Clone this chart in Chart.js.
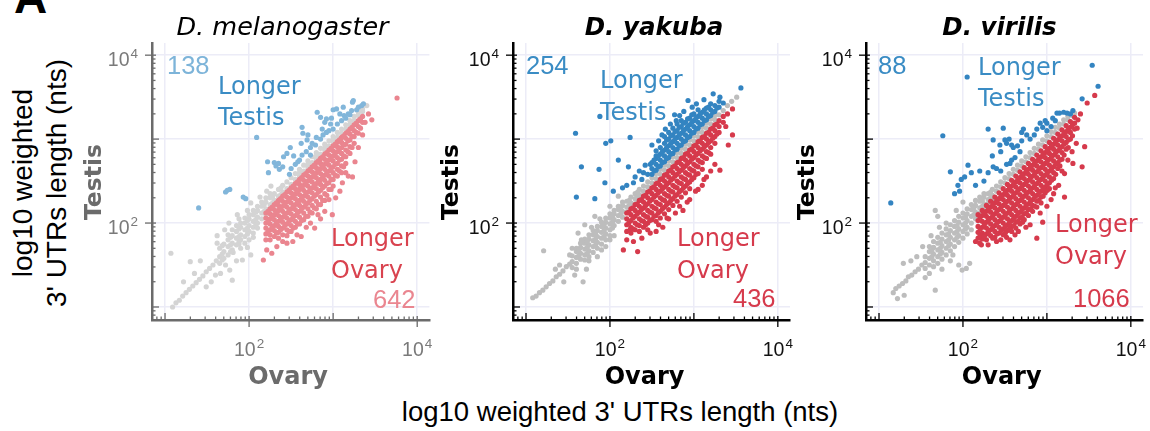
<!DOCTYPE html>
<html><head><meta charset="utf-8">
<script src="https://cdn.jsdelivr.net/npm/chart.js@4/dist/chart.umd.min.js"></script>
<style>
html,body{margin:0;padding:0;background:#fff;}
body{width:1150px;height:431px;overflow:hidden;position:relative;font-family:"Liberation Sans",Arial,sans-serif;color:#000;}
canvas{position:absolute;top:0;}
.t{position:absolute;white-space:nowrap;}
</style></head><body>
<div class="t" style="left:14px;top:-26px;font:bold 46px 'Liberation Sans';line-height:46px;">A</div>
<div class="t" style="left:40px;top:183px;transform:translate(-50%,-50%) rotate(-90deg);font:28px 'Liberation Sans';line-height:34px;text-align:center;">log10 weighted<br>3' UTRs length (nts)</div>
<div class="t" style="left:0;width:1240px;text-align:center;top:398px;font:27.5px 'Liberation Sans';line-height:27.5px;">log10 weighted 3' UTRs length (nts)</div>
<canvas id="k1" width="372" height="400" style="left:60px"></canvas>
<canvas id="k2" width="361" height="400" style="left:432px"></canvas>
<canvas id="k3" width="357" height="400" style="left:793px"></canvas>
<script>
// values are log10(length in nts); each entry is [ovary, testis, testis, ...] (points sharing one ovary value)
const tickExponents = [2, 4];
const panelTitles = ["D. melanogaster", "D. yakuba", "D. virilis"];
const countTestis = [138, 254, 88];
const countOvary = [642, 436, 1066];

const melGrey = [[1.09,1.00],[1.13,1.05],[1.17,1.08],[1.21,1.13],[1.25,1.17],[1.29,1.21],[1.33,1.25],[1.37,1.29],[1.41,1.33],[1.45,1.37],[1.49,1.42,1.24],[1.53,1.46],[1.57,1.50],[1.61,1.55],
[1.07,1.64],[1.30,1.54],[1.42,1.55],[1.62,1.76,1.85],[1.68,1.56],[1.81,1.65],[1.77,1.44],[1.80,1.32],[1.92,1.56],[1.98,1.71,2.15],[2.05,1.83],[1.55,1.30],[1.60,1.38],[1.72,1.50],[1.35,1.40],[1.22,1.30],[1.66,1.40],[1.85,1.55],[1.88,1.75,2.05],[2.02,1.62,2.24],[1.76,2.00],[1.86,2.10],[2.13,2.31],[1.71,1.92],[2.21,2.38],[2.26,2.44],
[1.65,1.60,1.70,1.52],[1.70,1.66,1.75,1.58],[1.75,1.72,1.80,1.62,1.86],[1.80,1.76,1.85,1.68,1.92],[1.85,1.82,1.90,1.74,1.97],[1.90,1.86,1.95,1.80,2.00,1.70],[1.95,1.92,2.00,1.84,2.06,1.76],[2.00,1.97,2.05,1.90,2.10,1.80],[2.05,2.02,2.10,1.95,2.15,1.88],[2.10,2.07,2.15,2.00,2.20,1.94],[2.15,2.12,2.20,2.05,2.25],[2.20,2.17,2.25,2.10,2.30],[2.25,2.22,2.30,2.16,2.35],[2.30,2.27,2.35,2.22],[2.35,2.32,2.40,2.27],[2.40,2.37,2.45,2.32],
[1.68,1.63,1.73],[1.78,1.74,1.83,1.66],[1.88,1.84,1.93,1.78],[1.98,1.94,2.03,1.87],[2.08,2.04,2.13,1.98],[2.18,2.14,2.22],[2.28,2.24,2.32],[2.38,2.34,2.42],
[2.45,2.41,2.49],[2.50,2.46,2.54,2.42],[2.55,2.52,2.59],[2.60,2.56,2.64,2.60],[2.65,2.62,2.69],[2.70,2.66,2.74,2.70],[2.75,2.72,2.79],[2.80,2.76,2.84,2.80],[2.85,2.82,2.89],[2.90,2.87,2.94,2.90],[2.95,2.92,2.98],[3.00,2.97,3.03,3.00],[3.05,3.02,3.08],[3.10,3.07,3.12],[3.15,3.12,3.17],[3.20,3.17,3.22],[3.25,3.22,3.27],[3.30,3.28,3.32],[3.35,3.33,3.36],[3.40,3.40]];

const melTestis = [[1.40,2.18],[1.72,2.37],[1.74,2.39],[1.77,2.40],[1.93,2.31],[1.96,2.29],[2.09,3.02],[2.22,2.73],[2.23,2.60],[2.30,2.72],[2.32,2.68],[2.35,2.71],[2.36,2.64],[2.40,2.67],[2.41,2.79],[2.45,2.83],[2.48,2.58],[2.49,2.90],[2.50,2.65],[2.53,2.80],[2.55,2.70],[2.58,2.73],[2.60,2.75],[2.62,2.95],[2.63,2.81,3.14],[2.64,3.07],[2.68,2.85],[2.69,2.99],[2.70,3.05],[2.73,2.81,2.90],[2.75,2.95],[2.79,2.93],[2.80,3.02],[2.81,3.32],[2.85,3.00,3.26],[2.87,3.12],[2.88,3.05],[2.90,3.20],[2.92,3.08,3.24],[2.95,3.10],[2.97,3.18],[2.98,3.25],[3.00,3.12,3.35],[3.04,3.36],[3.05,3.18],[3.08,3.30],[3.10,3.22],[3.12,3.38],[3.13,3.28],[3.15,3.25],[3.18,3.30],[3.20,3.29],[3.22,3.34],[3.23,3.44],[3.24,3.46],[3.28,3.35],[3.30,3.38],[3.34,3.40],[3.36,3.42]];

const melOvary = [[2.20,2.12,2.06,2.00,1.94,1.87,1.80],[2.25,2.17,2.11,2.05,1.99,1.92,1.86,1.80],[2.30,2.22,2.16,2.10,2.04,1.97,1.91,1.84],[2.35,2.27,2.21,2.15,2.09,2.02,1.96,1.89,1.82],[2.40,2.32,2.26,2.20,2.14,2.07,2.01,1.94,1.86],[2.45,2.37,2.31,2.25,2.19,2.12,2.06,1.99,1.92,1.85],[2.50,2.42,2.36,2.30,2.24,2.17,2.11,2.04,1.97,1.90],[2.55,2.47,2.41,2.35,2.29,2.22,2.16,2.09,2.02,1.95],[2.60,2.52,2.46,2.40,2.34,2.27,2.21,2.14,2.07,1.99],[2.65,2.57,2.51,2.45,2.39,2.32,2.26,2.19,2.12,2.04],[2.70,2.62,2.56,2.50,2.44,2.37,2.31,2.24,2.17,2.08],[2.75,2.67,2.61,2.55,2.49,2.42,2.36,2.29,2.21,2.12],[2.80,2.72,2.66,2.60,2.54,2.47,2.41,2.34,2.26,2.17],[2.85,2.77,2.71,2.65,2.59,2.52,2.46,2.39,2.31,2.22],[2.90,2.82,2.76,2.70,2.64,2.57,2.51,2.44,2.35,2.27],[2.95,2.87,2.81,2.75,2.69,2.62,2.56,2.48,2.40],[3.00,2.92,2.86,2.80,2.74,2.67,2.60,2.52,2.44],[3.05,2.97,2.91,2.85,2.78,2.71,2.64,2.56],[3.10,3.02,2.96,2.90,2.83,2.76,2.68,2.60],[3.15,3.07,3.01,2.94,2.87,2.79,2.71],[3.20,3.12,3.06,2.99,2.91,2.83],[3.25,3.17,3.10,3.03,2.95],[3.30,3.22,3.15,3.07],[3.35,3.27,3.20],
[2.225,2.14,2.02,1.90],[2.275,2.19,2.08,1.95],[2.325,2.24,2.13,2.00,1.88],[2.375,2.29,2.18,2.05,1.92],[2.425,2.34,2.23,2.10,1.97],[2.475,2.39,2.28,2.15,2.02,1.90],[2.525,2.44,2.33,2.20,2.07,1.94],[2.575,2.49,2.38,2.25,2.12,1.99],[2.625,2.54,2.43,2.30,2.17,2.03],[2.675,2.59,2.48,2.35,2.22,2.08],[2.725,2.64,2.53,2.40,2.27,2.13],[2.775,2.69,2.58,2.45,2.32,2.18],[2.825,2.74,2.63,2.50,2.37,2.22],[2.875,2.79,2.68,2.55,2.42,2.27],[2.925,2.84,2.73,2.60,2.47,2.33],[2.975,2.89,2.78,2.65,2.52,2.40],[3.025,2.94,2.83,2.70,2.57],[3.075,2.99,2.88,2.75,2.62],[3.125,3.04,2.93,2.80,2.67],[3.175,3.09,2.98,2.85],[3.225,3.14,3.03,2.90],[3.275,3.19,3.08],[3.325,3.24,3.13],
[2.17,1.56],[2.21,1.68],[2.27,1.64],[2.33,1.72],[2.40,1.78],[2.45,1.76],[2.52,1.78],[2.57,1.86],[2.62,1.84],[2.68,1.95],[2.73,2.00],[2.78,1.94],[2.82,2.10],[2.85,2.05],[2.90,2.14],[2.95,2.28],[2.99,2.10],[3.03,2.30],[3.08,2.38],[3.11,2.48],[3.15,2.60],[3.18,2.56],[3.23,2.55],[3.26,2.73],[3.30,2.90],[3.35,3.05],[3.38,3.20],[3.42,3.30],[3.46,3.23],[3.76,3.49]];

const yakGrey = [[1.08,1.11],[1.12,1.13],[1.16,1.17],[1.20,1.20],[1.24,1.24],[1.28,1.28],[1.32,1.31],[1.36,1.36],[1.40,1.39,1.50],[1.44,1.43],[1.48,1.48],[1.52,1.51,1.62],
[1.21,1.67],[1.68,1.30],[1.45,1.30],[1.35,1.45],[1.58,1.38],[1.60,1.45],[1.72,1.45],[1.75,1.55],[1.85,1.60],[1.90,1.68],[1.95,1.72],[2.00,1.80],[2.05,1.85],[1.55,1.70],[1.62,1.88],[1.66,1.80],[1.70,1.98],[1.78,1.95],[1.82,2.08],[1.88,2.05],[2.00,2.20],[2.10,2.32],
[1.55,1.54,1.61,1.47],[1.60,1.59,1.66,1.52,1.70],[1.65,1.64,1.71,1.57,1.76],[1.70,1.69,1.76,1.62,1.81,1.56],[1.75,1.74,1.81,1.67,1.86,1.60],[1.80,1.79,1.86,1.72,1.91,1.65],[1.85,1.84,1.91,1.77,1.96,1.70],[1.90,1.89,1.96,1.82,2.01,1.75],[1.95,1.94,2.01,1.87,2.06,1.80],[2.00,1.99,2.06,1.92,2.11,1.85],[2.05,2.04,2.11,1.97,2.15],[2.10,2.09,2.16,2.02,2.20],[2.15,2.14,2.21,2.07,2.25],[2.20,2.19,2.26,2.13],[2.25,2.24,2.31,2.18],[2.30,2.29,2.35,2.23],[2.35,2.34,2.40,2.29],
[1.63,1.61,1.68],[1.73,1.71,1.78,1.64],[1.83,1.81,1.88,1.74],[1.93,1.91,1.98,1.84],[2.03,2.01,2.08,1.94],[2.13,2.11,2.18],[2.23,2.21,2.27],[2.33,2.31,2.37],
[2.40,2.38,2.44],[2.45,2.43,2.49],[2.50,2.48,2.54],[2.55,2.53,2.59],[2.60,2.58,2.64],[2.65,2.63,2.69],[2.70,2.68,2.74],[2.75,2.73,2.79],[2.80,2.78,2.84],[2.85,2.83,2.89],[2.90,2.88,2.94],[2.95,2.93,2.99],[3.00,2.98,3.04],[3.05,3.03,3.09],[3.10,3.08,3.14],[3.15,3.13,3.19],[3.20,3.18,3.24],[3.25,3.23,3.28],[3.30,3.29],[3.35,3.34],[3.40,3.40],[3.45,3.45],[3.51,3.50]];

const yakTestis = [[1.59,3.07],[1.60,2.31],[1.66,2.67],[1.82,2.29],[1.87,2.64],[1.88,3.27],[1.94,2.48],[1.95,2.95],[2.01,2.98],[2.04,2.38],[2.10,2.75],[2.15,2.42],[2.20,2.45],[2.22,2.67],[2.24,3.02],[2.28,2.48],[2.30,2.55],[2.35,2.62],[2.38,2.52],[2.40,2.60],[2.42,2.69],[2.45,2.58],[2.48,2.70],[2.50,2.93],[2.55,2.80],[2.77,3.29],[2.93,3.46],[3.23,3.54],[3.31,3.50],[3.56,3.61],
[2.58,2.98],[2.62,3.05],[2.66,3.12],[2.72,3.18],[2.79,3.22],[2.83,3.28],[2.88,3.33],[2.98,3.38],[3.03,3.42],[3.12,3.47],
[2.50,2.58,2.65,2.72],[2.55,2.63,2.70,2.77,2.86],[2.60,2.68,2.75,2.82,2.90],[2.65,2.73,2.80,2.87,2.95,3.03],[2.70,2.78,2.85,2.92,3.00,3.08],[2.75,2.83,2.90,2.97,3.05,3.13],[2.80,2.88,2.95,3.02,3.10,3.18],[2.85,2.93,3.00,3.07,3.15,3.22],[2.90,2.98,3.05,3.12,3.20],[2.95,3.03,3.10,3.17,3.25],[3.00,3.08,3.15,3.22,3.30],[3.05,3.13,3.20,3.27,3.35],[3.10,3.18,3.25,3.32],[3.15,3.23,3.30,3.37],[3.20,3.28,3.35,3.42],[3.25,3.33,3.40],[3.30,3.38,3.45],[3.35,3.43],
[2.525,2.62,2.75],[2.575,2.67,2.80],[2.625,2.72,2.85],[2.675,2.77,2.90,2.99],[2.725,2.82,2.95,3.04],[2.775,2.87,3.00,3.09],[2.825,2.92,3.05,3.14],[2.875,2.97,3.10,3.19],[2.925,3.02,3.15,3.24],[2.975,3.07,3.20,3.29],[3.025,3.12,3.25],[3.075,3.17,3.30],[3.125,3.22,3.35],[3.175,3.27,3.38],[3.225,3.32],[3.275,3.37]];

const yakOvary = [[2.20,2.12,2.05,1.98,1.90],[2.25,2.17,2.10,2.03,1.95,1.88],[2.30,2.22,2.15,2.08,2.00,1.92],[2.35,2.27,2.20,2.13,2.05,1.97,1.90],[2.40,2.32,2.25,2.18,2.10,2.02,1.95],[2.45,2.37,2.30,2.23,2.15,2.07,2.00],[2.50,2.42,2.35,2.28,2.20,2.12,2.04],[2.55,2.47,2.40,2.33,2.25,2.17,2.09,2.02],[2.60,2.52,2.45,2.38,2.30,2.22,2.14,2.06],[2.65,2.57,2.50,2.43,2.35,2.27,2.19,2.11],[2.70,2.62,2.55,2.48,2.40,2.32,2.24,2.16],[2.75,2.67,2.60,2.53,2.45,2.37,2.29,2.21],[2.80,2.72,2.65,2.58,2.50,2.42,2.34,2.26],[2.85,2.77,2.70,2.63,2.55,2.47,2.39,2.31],[2.90,2.82,2.75,2.68,2.60,2.52,2.44,2.36],[2.95,2.87,2.80,2.73,2.65,2.57,2.49,2.41],[3.00,2.92,2.85,2.78,2.70,2.62,2.54],[3.05,2.97,2.90,2.83,2.75,2.67,2.59],[3.10,3.02,2.95,2.88,2.80,2.72,2.64],[3.15,3.07,3.00,2.93,2.85,2.77],[3.20,3.12,3.05,2.98,2.90,2.82],[3.25,3.17,3.10,3.03,2.95],[3.30,3.22,3.15,3.08],[3.35,3.27,3.20],
[2.225,2.13,2.00],[2.275,2.18,2.06,1.93],[2.325,2.23,2.11,1.98],[2.375,2.28,2.16,2.03],[2.425,2.33,2.21,2.08,1.98],[2.475,2.38,2.26,2.13,2.03],[2.525,2.43,2.31,2.18,2.08],[2.575,2.48,2.36,2.23,2.12],[2.625,2.53,2.41,2.28,2.17],[2.675,2.58,2.46,2.33,2.22],[2.725,2.63,2.51,2.38,2.27],[2.775,2.68,2.56,2.43,2.32],[2.825,2.73,2.61,2.48,2.37],[2.875,2.78,2.66,2.53,2.42],[2.925,2.83,2.71,2.58,2.47],[2.975,2.88,2.76,2.63,2.52],[3.025,2.93,2.81,2.68,2.58],[3.075,2.98,2.86,2.73],[3.125,3.03,2.91,2.78],[3.175,3.08,2.96,2.84],[3.225,3.13,3.01],[3.275,3.18,3.06],
[2.16,1.68],[2.20,1.80],[2.24,1.92],[2.28,1.78],[2.33,1.66],[2.38,1.82],[2.45,1.92],[2.48,1.88],[2.55,1.90],[2.58,1.98],[2.63,1.95],[2.68,2.06],[2.70,2.05],[2.78,2.12],[2.83,2.20],[2.87,2.15],[2.92,2.25],[2.95,2.28],[3.02,2.38],[3.05,2.40],[3.10,2.45],[3.12,2.52],[3.15,2.55],[3.20,2.62],[3.25,2.70],[3.31,2.63],[3.38,3.15],[3.40,3.30],[3.41,2.93],[3.46,3.05,3.36]];

const virGrey = [[1.17,1.17],[1.20,1.22],[1.22,1.10],[1.24,1.25],[1.28,1.28],[1.29,1.52],[1.30,1.14],[1.32,1.31],[1.35,1.36],[1.38,1.55],[1.39,1.38],[1.43,1.42],[1.45,1.60],[1.47,1.45],[1.51,1.50],[1.52,1.72],[1.55,1.35],[1.60,1.40],[1.62,1.85],[1.67,1.20,2.15],[1.70,2.08],[1.72,1.95],[1.75,1.45],[1.80,2.00],[1.85,1.55],[1.88,1.62],[1.92,2.15],[1.95,1.50],[1.99,1.44],[2.00,2.25],[2.04,1.46],[2.08,1.52],
[1.55,1.53,1.60,1.46],[1.60,1.58,1.66,1.50,1.72],[1.65,1.63,1.71,1.55,1.78,1.48],[1.70,1.68,1.76,1.60,1.83,1.52],[1.75,1.73,1.81,1.65,1.88,1.57],[1.80,1.78,1.86,1.70,1.93,1.62],[1.85,1.83,1.91,1.75,1.98,1.67],[1.90,1.88,1.96,1.80,2.03,1.72],[1.95,1.93,2.01,1.85,2.08,1.77],[2.00,1.98,2.06,1.90,2.12,1.82],[2.05,2.03,2.11,1.95,2.17,1.87],[2.10,2.08,2.16,2.00,2.22,1.92],[2.15,2.13,2.21,2.05,2.27],[2.20,2.18,2.26,2.12,2.31],[2.25,2.23,2.31,2.17,2.35],[2.30,2.28,2.35,2.23],[2.35,2.33,2.40,2.28],
[1.63,1.60,1.67],[1.73,1.70,1.77,1.63],[1.83,1.80,1.87,1.73],[1.93,1.90,1.97,1.83],[2.03,2.00,2.07,1.93],[2.13,2.10,2.18],[2.23,2.20,2.27],[2.33,2.30,2.37],
[2.40,2.38,2.44],[2.45,2.43,2.49],[2.50,2.48,2.54],[2.55,2.53,2.59],[2.60,2.58,2.64],[2.65,2.63,2.69],[2.70,2.68,2.74],[2.75,2.73,2.79],[2.80,2.78,2.84],[2.85,2.83,2.89],[2.90,2.88,2.94],[2.95,2.93,2.99],[3.00,2.98,3.04],[3.05,3.03,3.09],[3.10,3.08,3.14],[3.15,3.13,3.18],[3.20,3.18,3.23],[3.25,3.23,3.27],[3.30,3.28],[3.33,3.31]];

const virTestis = [[1.14,2.24],[1.76,3.04],[1.85,2.61],[1.90,2.35],[1.94,2.45],[1.96,2.38],[1.98,2.52],[2.02,2.55],[2.05,3.74],[2.06,2.69],[2.10,2.60],[2.15,2.45],[2.20,2.62],[2.25,2.50],[2.30,2.60,3.12],[2.35,2.80],[2.36,2.67,2.99],[2.40,2.65],[2.44,2.93],[2.45,2.62,2.85],[2.48,3.13],[2.50,2.99],[2.52,2.70,2.95],[2.55,3.00],[2.56,2.71],[2.58,2.75,2.93],[2.60,2.90],[2.62,2.78],[2.65,2.92],[2.68,2.85],[2.70,2.98,3.08],[2.72,3.12],[2.76,3.05],[2.80,3.00],[2.85,3.05],[2.88,3.12],[2.92,3.19],[2.95,3.14],[2.98,3.22],[3.00,3.10,3.19],[3.05,3.15],[3.07,3.25],[3.10,3.22],[3.12,3.31],[3.15,3.31],[3.20,3.32],[3.24,3.31],[3.28,3.30],[3.31,3.34],[3.42,3.48],[3.54,3.88],[3.61,3.63]];

const virOvary = [[2.18,2.10,2.03,1.96,1.89,1.82],[2.23,2.15,2.09,2.02,1.95,1.88,1.81],[2.28,2.21,2.14,2.08,2.01,1.94,1.87,1.80],[2.33,2.26,2.19,2.13,2.06,1.99,1.92,1.85],[2.38,2.31,2.24,2.18,2.11,2.04,1.97,1.90,1.83],[2.43,2.36,2.29,2.23,2.16,2.09,2.02,1.95,1.88],[2.48,2.41,2.34,2.28,2.21,2.14,2.07,2.00,1.93,1.86],[2.53,2.46,2.39,2.33,2.26,2.19,2.12,2.05,1.98,1.91],[2.58,2.51,2.44,2.38,2.31,2.24,2.17,2.10,2.03,1.96,1.90],[2.63,2.56,2.49,2.43,2.36,2.29,2.22,2.15,2.08,2.01,1.94],[2.68,2.61,2.54,2.48,2.41,2.34,2.27,2.20,2.13,2.06,1.99],[2.73,2.66,2.59,2.53,2.46,2.39,2.32,2.25,2.18,2.11,2.04],[2.78,2.71,2.64,2.58,2.51,2.44,2.37,2.30,2.23,2.16,2.09],[2.83,2.76,2.69,2.63,2.56,2.49,2.42,2.35,2.28,2.21,2.14],[2.88,2.81,2.74,2.68,2.61,2.54,2.47,2.40,2.33,2.26,2.19],[2.93,2.86,2.79,2.73,2.66,2.59,2.52,2.45,2.38,2.31,2.24],[2.98,2.91,2.84,2.78,2.71,2.64,2.57,2.50,2.43,2.36],[3.03,2.96,2.89,2.83,2.76,2.69,2.62,2.55,2.48,2.41],[3.08,3.01,2.94,2.88,2.81,2.74,2.67,2.60,2.53],[3.13,3.06,2.99,2.93,2.86,2.79,2.72,2.65],[3.18,3.11,3.04,2.98,2.91,2.84,2.76],[3.23,3.16,3.09,3.03,2.96,2.88],[3.28,3.21,3.14,3.08,3.00],[3.33,3.26,3.19,3.12],
[2.205,2.07,1.93,1.85],[2.255,2.12,1.98,1.84],[2.305,2.17,2.04,1.90],[2.355,2.22,2.09,1.95,1.82],[2.405,2.27,2.14,2.00,1.87],[2.455,2.32,2.19,2.05,1.91],[2.505,2.37,2.24,2.10,1.96,1.88],[2.555,2.42,2.29,2.15,2.01,1.93],[2.605,2.47,2.34,2.20,2.06,1.97],[2.655,2.52,2.39,2.25,2.11,2.02],[2.705,2.57,2.44,2.30,2.16,2.07],[2.755,2.62,2.49,2.35,2.21,2.12],[2.805,2.67,2.54,2.40,2.26,2.17],[2.855,2.72,2.59,2.45,2.31,2.20],[2.905,2.77,2.64,2.50,2.36,2.27],[2.955,2.82,2.69,2.55,2.41,2.32],[3.005,2.87,2.74,2.60,2.46,2.39],[3.055,2.92,2.79,2.65,2.51],[3.105,2.97,2.84,2.70,2.58],[3.155,3.02,2.89,2.75,2.68],[3.205,3.07,2.94,2.81],[3.255,3.12,2.99,2.90],[3.305,3.17,3.04],
[2.20,1.76],[2.15,1.78],[2.22,1.74],[2.30,1.74],[2.40,1.78],[2.45,1.80],[2.52,1.83],[2.56,1.80],[2.62,1.86],[2.66,1.90],[2.71,2.01],[2.75,1.95],[2.80,1.98],[2.88,1.82],[2.92,2.12],[2.95,2.01],[3.00,2.20],[3.05,2.28],[3.08,2.35],[3.10,2.42],[3.14,2.45],[3.18,2.62],[3.21,2.31,2.59],[3.25,2.75],[3.30,2.85],[3.31,2.71],[3.35,2.95],[3.36,3.13],[3.37,3.23],[3.40,3.30],[3.42,2.67],[3.45,2.91],[3.48,3.43],[3.57,3.52]];

function toPts(cols){const r=[];cols.forEach(c=>{for(let i=1;i<c.length;i++)r.push({x:c[0],y:c[i]});});return r;}

function pow10(ctx, e, x, y, align, color){
  ctx.save(); ctx.fillStyle=color; ctx.textBaseline='alphabetic'; ctx.textAlign='left';
  ctx.font='19.5px "Liberation Sans"'; const w1=ctx.measureText('10').width;
  ctx.font='13.5px "Liberation Sans"'; const w2=ctx.measureText(String(e)).width;
  const x0 = align==='right' ? x-w1-w2-1 : x-(w1+w2+1)/2;
  ctx.font='19.5px "Liberation Sans"'; ctx.fillText('10', x0, y);
  ctx.font='13.5px "Liberation Sans"'; ctx.fillText(String(e), x0+w1+1, y-8.5);
  ctx.restore();
}
function txt(ctx, s, x, y, font, color, align, rot){
  ctx.save(); ctx.font=font; ctx.fillStyle=color; ctx.textAlign=align||'left';
  if(rot){ ctx.translate(x,y); ctx.rotate(-Math.PI/2); ctx.textBaseline='middle'; ctx.fillText(s,0,0); }
  else { ctx.textBaseline='alphabetic'; ctx.fillText(s,x,y); }
  ctx.restore();
}

const decor = {
  id:'decor',
  afterDraw(chart, args, o){
    const ctx=chart.ctx, xs=chart.scales.x, ys=chart.scales.y, a=chart.chartArea;
    ctx.save();
    ctx.strokeStyle=o.axis; ctx.lineWidth=1.3;
    for(let d=0; d<=4; d++) for(let k=1;k<=9;k++){
      const v=d+Math.log10(k);
      if(v<xs.min||v>xs.max) continue;
      const px=xs.getPixelForValue(v), py=ys.getPixelForValue(v);
      let tin=3.5, tout=0;
      if(k===1 && tickExponents.includes(d)){ tin=4; tout=7; } else if(k===1){ tin=7; }
      ctx.beginPath(); ctx.moveTo(px, a.bottom-tin); ctx.lineTo(px, a.bottom+tout); ctx.stroke();
      ctx.beginPath(); ctx.moveTo(a.left+tin, py); ctx.lineTo(a.left-tout, py); ctx.stroke();
    }
    ctx.restore();
    tickExponents.forEach(e=>{
      pow10(ctx, e, xs.getPixelForValue(e), 356, 'center', o.label);
      pow10(ctx, e, a.left-14, ys.getPixelForValue(e)+11, 'right', o.label);
    });
    o.texts.forEach(t=>txt(ctx, t[0], t[1], t[2], t[3], t[4], t[5], t[6]));
  }
};

function makePanel(id, cfg){
  new Chart(document.getElementById(id), {
    type:'scatter',
    data:{datasets:[
      {data:toPts(cfg.blue), backgroundColor:cfg.cBlue},
      {data:toPts(cfg.red), backgroundColor:cfg.cRed},
      {data:toPts(cfg.grey), backgroundColor:cfg.cGrey}
    ]},
    options:{
      responsive:false, animation:false, devicePixelRatio:1, events:[],
      layout:{padding:{top:43,right:cfg.padR,bottom:0,left:0}},
      elements:{point:{radius:2.6,hoverRadius:2.6,borderWidth:0,pointStyle:'circle'}},
      plugins:{legend:{display:false},tooltip:{enabled:false},title:{display:false},
        decor:{axis:cfg.axis,label:cfg.label,texts:cfg.texts}},
      scales:{
        x:{type:'linear',min:0.845,max:4.145,
           ticks:{stepSize:1,includeBounds:false,display:false},
           grid:{color:'#ececf7',lineWidth:1.5,drawTicks:false},
           border:{display:true,color:cfg.axis,width:2.5},
           afterFit(s){s.height=80;}},
        y:{type:'linear',min:0.845,max:4.145,
           ticks:{stepSize:1,includeBounds:false,display:false},
           grid:{color:'#ececf7',lineWidth:1.5,drawTicks:false},
           border:{display:true,color:cfg.axis,width:2.5},
           afterFit(s){s.width=cfg.yw;}}
      }
    },
    plugins:[decor]
  });
}

const fLong='24px "DejaVu Sans"', fNum='25.5px "Liberation Sans"';
const tBlue='#3a8cc4', tRed='#d63a4c';

makePanel('k1',{grey:melGrey,blue:melTestis,red:melOvary,cGrey:'#d4d4d4',cBlue:'#82b6da',cRed:'#ea858f',
  axis:'#6b6b6b',label:'#7a7a7a',yw:92,padR:2,
  texts:[[panelTitles[0],222.5,35,'italic 25.5px "DejaVu Sans"','#000','center'],
    ['Testis',35,182,'bold 23.5px "DejaVu Sans"','#6b6b6b','center',true],
    ['Ovary',228,384,'bold 24px "DejaVu Sans"','#6b6b6b','center'],
    [String(countTestis[0]),107,74,fNum,'#7db4d9'],
    ['Longer',158,94,fLong,tBlue],['Testis',158,125,fLong,tBlue],
    ['Longer',271,246,fLong,'#d9434f'],['Ovary',271,278,fLong,'#d9434f'],
    [String(countOvary[0]),313,308,fNum,'#ea8690']]});

makePanel('k2',{grey:yakGrey,blue:yakTestis,red:yakOvary,cGrey:'#bdbdbd',cBlue:'#3384c1',cRed:'#d63a4c',
  axis:'#000',label:'#111',yw:81,padR:3,
  texts:[[panelTitles[1],222,35,'italic bold 24.5px "DejaVu Sans"','#000','center'],
    ['Testis',20,182,'bold 23.5px "DejaVu Sans"','#000','center',true],
    ['Ovary',212.5,384,'bold 24px "DejaVu Sans"','#000','center'],
    [String(countTestis[1]),94,74,fNum,tBlue],
    ['Longer',168,88,fLong,tBlue],['Testis',168,120,fLong,tBlue],
    ['Longer',245,246,fLong,tRed],['Ovary',245,278,fLong,tRed],
    [String(countOvary[1]),301,307,fNum,tRed]]});

makePanel('k3',{grey:virGrey,blue:virTestis,red:virOvary,cGrey:'#bdbdbd',cBlue:'#3384c1',cRed:'#d63a4c',
  axis:'#000',label:'#111',yw:73,padR:7,
  texts:[[panelTitles[2],206.5,35,'italic bold 24.5px "DejaVu Sans"','#000','center'],
    ['Testis',15,182,'bold 23.5px "DejaVu Sans"','#000','center',true],
    ['Ovary',208.7,384,'bold 24px "DejaVu Sans"','#000','center'],
    [String(countTestis[2]),85,74,fNum,tBlue],
    ['Longer',185,75,fLong,tBlue],['Testis',185,106,fLong,tBlue],
    ['Longer',262,232,fLong,tRed],['Ovary',262,264,fLong,tRed],
    [String(countOvary[2]),280,307,fNum,tRed]]});
</script>
</body></html>
